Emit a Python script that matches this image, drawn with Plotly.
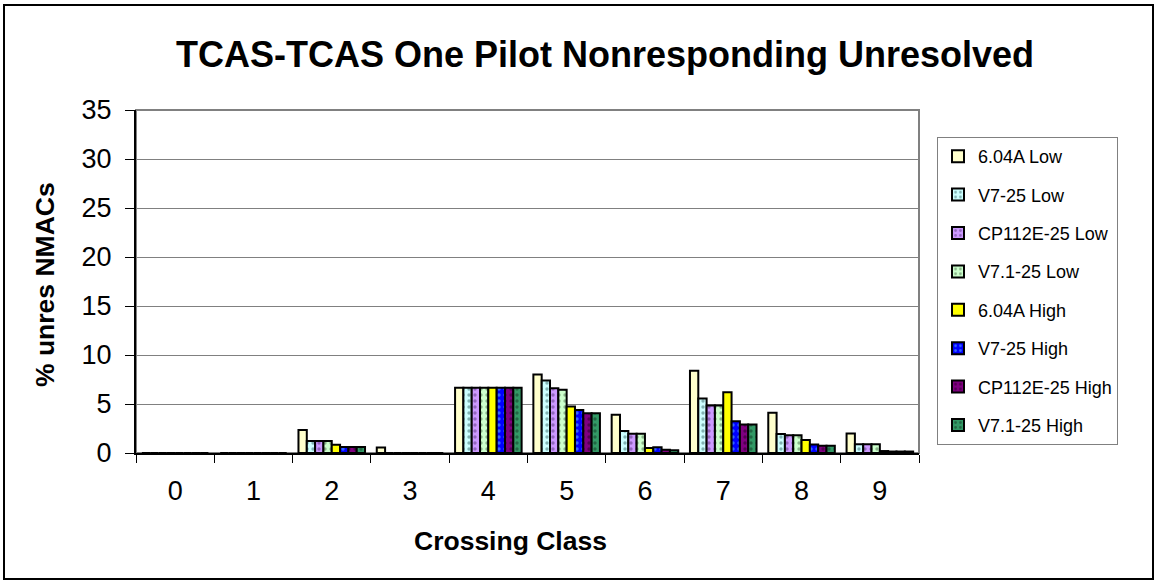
import plotly.graph_objects as go

# crossing classes on the x axis
classes = ["0", "1", "2", "3", "4", "5", "6", "7", "8", "9"]

# % unresolved NMACs per logic version / altitude band
v604a_low = [0, 0, 2.35, 0.55, 6.67, 8.0, 3.9, 8.4, 4.1, 2.0]
v7_25_low = [0, 0, 1.22, 0, 6.67, 7.4, 2.25, 5.55, 1.95, 0.9]
cp112e_25_low = [0, 0, 1.22, 0, 6.67, 6.6, 1.97, 4.85, 1.8, 0.9]
v71_25_low = [0, 0, 1.22, 0, 6.67, 6.45, 1.97, 4.85, 1.8, 0.9]
v604a_high = [0, 0, 0.85, 0, 6.67, 4.75, 0.5, 6.2, 1.33, 0.2]
v7_25_high = [0, 0, 0.6, 0, 6.67, 4.4, 0.58, 3.23, 0.88, 0.15]
cp112e_25_high = [0, 0, 0.6, 0, 6.67, 4.05, 0.34, 2.9, 0.75, 0.15]
v71_25_high = [0, 0, 0.6, 0, 6.67, 4.05, 0.27, 2.9, 0.75, 0.15]

series = [
    ("6.04A Low", v604a_low, "#FFFFCC", "", "#000000"),
    ("V7-25 Low", v7_25_low, "#CCFFFF", ".", "#336666"),
    ("CP112E-25 Low", cp112e_25_low, "#CC99FF", ".", "#553377"),
    ("V7.1-25 Low", v71_25_low, "#CCFFCC", ".", "#446644"),
    ("6.04A High", v604a_high, "#FFFF00", "", "#000000"),
    ("V7-25 High", v7_25_high, "#0000FF", ".", "#66CCFF"),
    ("CP112E-25 High", cp112e_25_high, "#800080", ".", "#220022"),
    ("V7.1-25 High", v71_25_high, "#339966", ".", "#113322"),
]

W, H = 1156, 581
L, R, T, B = 136, 919, 110, 453
pw, ph = R - L, B - T


def px(x):
    return (x - L) / pw


def py(y):
    return (B - y) / ph


fig = go.Figure()
for i, (name, vals, color, shape, dot) in enumerate(series):
    fig.add_trace(go.Bar(
        name=name,
        x=classes,
        y=vals,
        legendgroup=f"g{i}",
        marker=dict(
            color=color,
            line=dict(color="#000000", width=2),
            pattern=dict(shape=shape, fgcolor=dot, size=6, solidity=0.25),
        ),
    ))

font = "Arial, Liberation Sans, sans-serif"

fig.update_layout(
    width=W, height=H,
    margin=dict(l=L, r=W - R, t=T, b=H - B, autoexpand=False),
    paper_bgcolor="white",
    plot_bgcolor="white",
    barmode="group",
    bargap=0.15,
    bargroupgap=0,
    font=dict(family=font, color="#000000"),
    title=dict(
        text="<b>TCAS-TCAS One Pilot Nonresponding Unresolved</b>",
        font=dict(size=36, family=font, color="#000000"),
        x=px(605), xref="paper", xanchor="center",
        y=1 - 54 / H, yref="container", yanchor="middle",
    ),
    legend=dict(
        x=px(937), y=py(137), xanchor="left", yanchor="top",
        bordercolor="#808080", borderwidth=1,
        font=dict(size=18, family=font),
        tracegroupgap=12,
        itemwidth=30,
        bgcolor="white",
    ),
    showlegend=True,
)

fig.update_xaxes(
    type="category",
    range=[-0.5, 9.5],
    showline=True, linecolor="#000000", linewidth=2,
    ticks="outside", tickson="boundaries", ticklen=8, tickcolor="#000000",
    tickfont=dict(size=27, family=font),
    ticklabelstandoff=13,
    showgrid=False,
)
fig.update_yaxes(
    range=[0, 35], dtick=5,
    showline=True, linecolor="#000000", linewidth=2,
    ticks="outside", ticklen=9, tickcolor="#000000",
    tickfont=dict(size=27, family=font),
    ticklabelstandoff=8,
    showgrid=True, gridcolor="#808080", gridwidth=1,
    zeroline=False,
)

# axis titles
fig.add_annotation(
    text="<b>Crossing Class</b>", x=px(510), y=py(541),
    xref="paper", yref="paper", showarrow=False,
    font=dict(size=26.5, family=font), xanchor="center", yanchor="middle",
)
fig.add_annotation(
    text="<b>% unres NMACs</b>", x=px(45), y=py(285),
    xref="paper", yref="paper", showarrow=False, textangle=-90,
    font=dict(size=26.5, family=font), xanchor="center", yanchor="middle",
)

# gray plot-area frame and black chart border
fig.add_shape(type="rect", xref="paper", yref="paper", x0=0, y0=0, x1=1, y1=1,
              line=dict(color="#808080", width=2), layer="below")
fig.add_shape(type="rect", xref="paper", yref="paper",
              x0=px(4), y0=py(579), x1=px(1153), y1=py(5),
              line=dict(color="#000000", width=2))

# drop the default body margin so the figure sits at the page origin
fig.write_html("out.html", config={"displayModeBar": False},
               post_script="document.body.style.margin='0';")
